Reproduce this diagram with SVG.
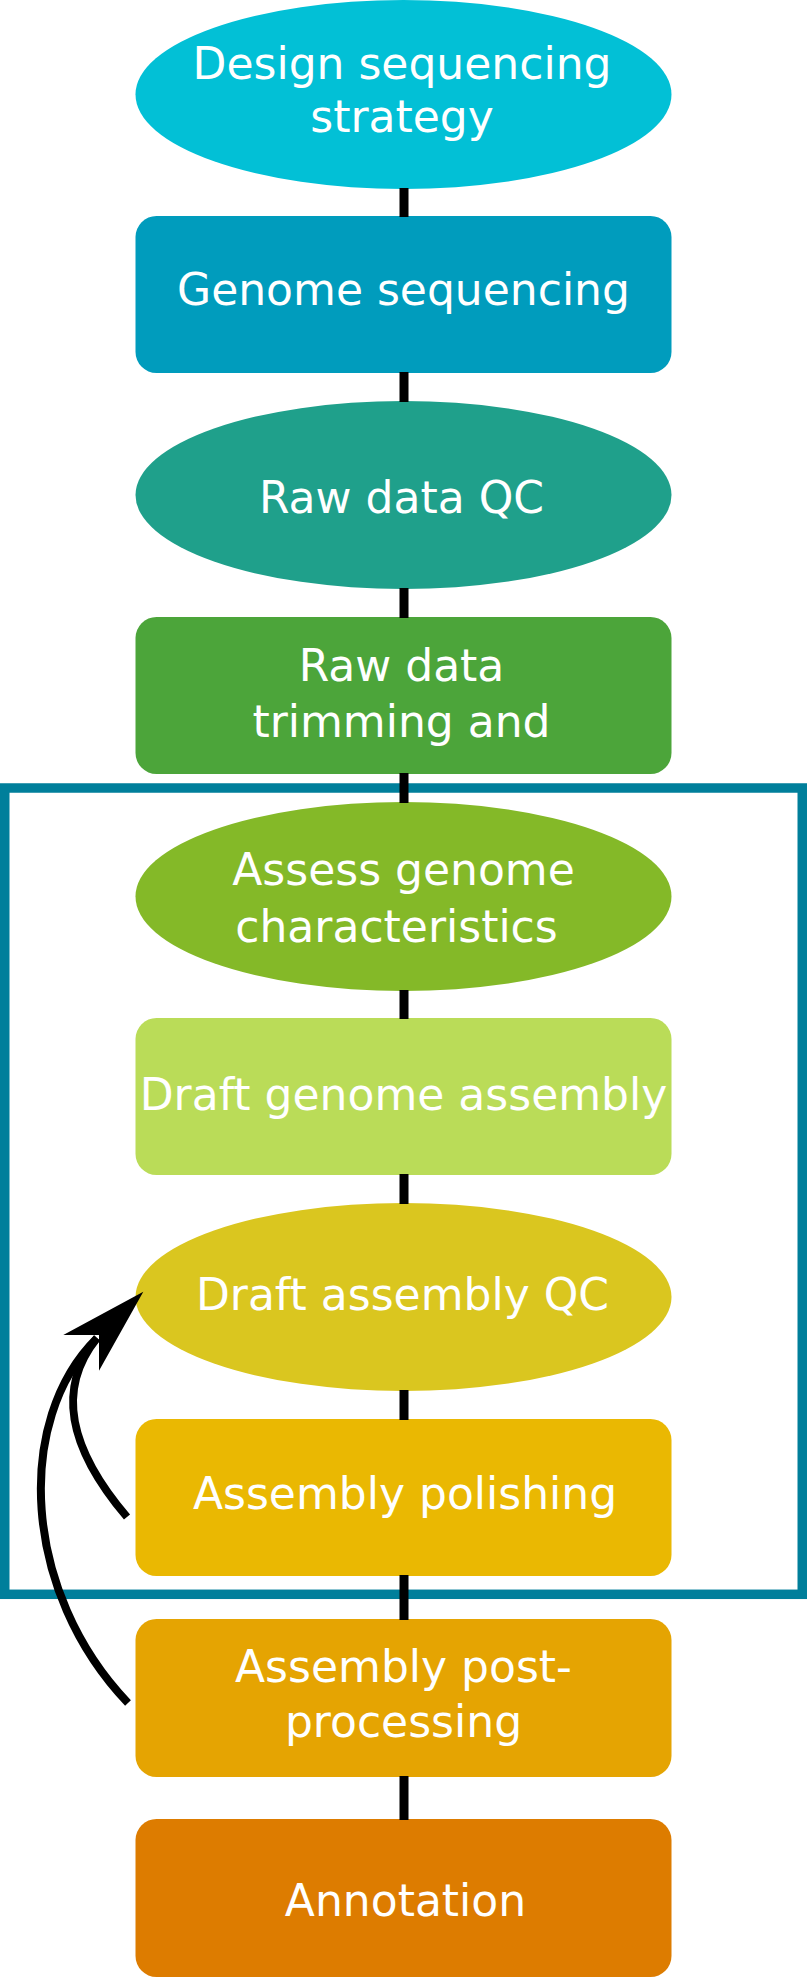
<svg xmlns="http://www.w3.org/2000/svg" width="807" height="1977" viewBox="0 0 807 1977">
  <style>
    .label { font-family: "DejaVu Sans", Verdana, sans-serif; font-size: 44px; fill: #ffffff; text-anchor: middle; }
    .spine { stroke: #000000; stroke-width: 9; fill: none; }
    .loop { stroke: #000000; stroke-width: 8; fill: none; stroke-linecap: butt; }
    .frame { fill: none; stroke: #007F9B; stroke-width: 9.5; }
  </style>

  <!-- assembly stage frame -->
  <rect id="assembly-frame" class="frame" x="4.75" y="788" width="797.5" height="806.3"/>

  <!-- nodes -->
  <g id="design-strategy">
    <ellipse cx="403.5" cy="94.5" rx="268" ry="94.5" fill="#02C0D6"/>
    <text class="label" x="402" y="78.5">Design sequencing</text>
    <text class="label" x="402" y="132">strategy</text>
  </g>
  <g id="genome-sequencing">
    <rect x="135.5" y="216" width="536" height="157" rx="21" fill="#009CBD"/>
    <text class="label" x="403.5" y="305">Genome sequencing</text>
  </g>
  <g id="raw-data-qc">
    <ellipse cx="403.5" cy="495" rx="268" ry="94" fill="#1FA08B"/>
    <text class="label" x="401.5" y="513">Raw data QC</text>
  </g>
  <g id="raw-data-trimming">
    <rect x="135.5" y="617" width="536" height="157" rx="21" fill="#4CA53A"/>
    <text class="label" x="401.5" y="681">Raw data</text>
    <text class="label" x="401.5" y="737">trimming and</text>
  </g>
  <g id="genome-characteristics">
    <ellipse cx="403.5" cy="896.5" rx="268" ry="94.5" fill="#84B928"/>
    <text class="label" x="403.5" y="885">Assess genome</text>
    <text class="label" x="396.5" y="941.5">characteristics</text>
  </g>
  <g id="draft-assembly">
    <rect x="135.5" y="1018" width="536" height="157" rx="21" fill="#BADC58"/>
    <text class="label" x="403.5" y="1110">Draft genome assembly</text>
  </g>
  <g id="draft-assembly-qc">
    <ellipse cx="403.5" cy="1297" rx="268" ry="94" fill="#DAC61F"/>
    <text class="label" x="402.5" y="1310">Draft assembly QC</text>
  </g>
  <g id="assembly-polishing">
    <rect x="135.5" y="1419" width="536" height="157" rx="21" fill="#EAB802"/>
    <text class="label" x="405" y="1509">Assembly polishing</text>
  </g>
  <g id="post-processing">
    <rect x="135.5" y="1619" width="536" height="158" rx="21" fill="#E5A402"/>
    <text class="label" x="403.5" y="1682">Assembly post-</text>
    <text class="label" x="403.5" y="1737">processing</text>
  </g>
  <g id="annotation">
    <rect x="135.5" y="1819" width="536" height="158" rx="21" fill="#DD7C00"/>
    <text class="label" x="405.5" y="1916">Annotation</text>
  </g>

  <!-- connectors -->
  <g id="connectors">
    <path class="spine" d="M404 188V217M404 372V402M404 588V618M404 773V803M404 990V1019M404 1174V1204M404 1390V1420M404 1575V1620M404 1776V1820"/>
    <path class="loop" d="M127 1517C70 1450 55 1390 97 1338"/>
    <path class="loop" d="M128 1703C22 1592 14 1420 97 1338"/>
    <polygon points="143.3,1291.7 63.3,1335 99,1335 99,1370.7" fill="#000000"/>
  </g>
</svg>
